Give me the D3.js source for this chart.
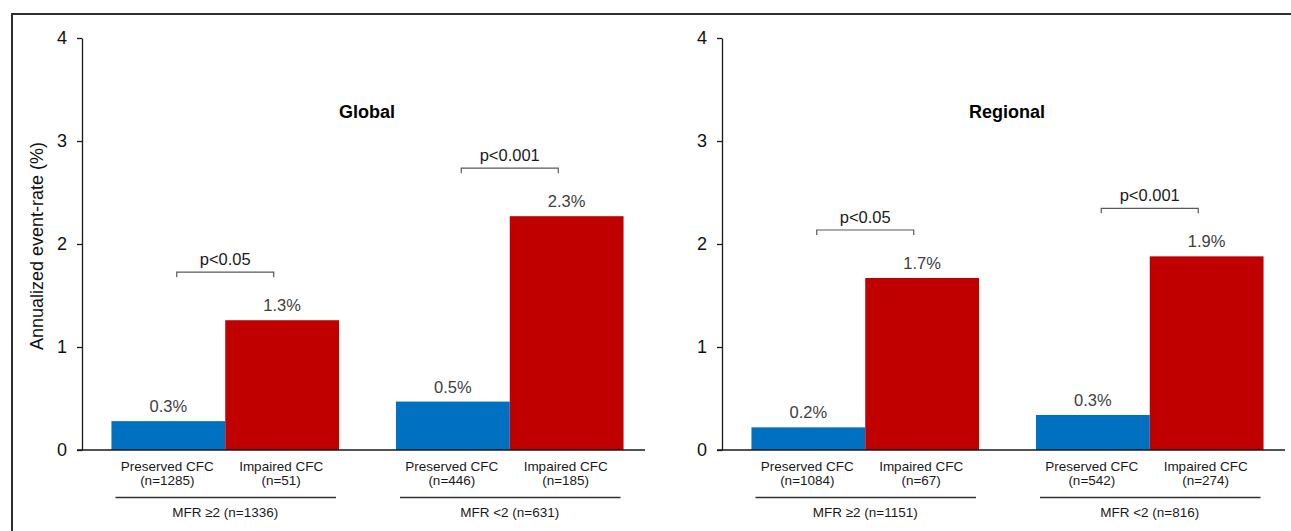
<!DOCTYPE html>
<html>
<head>
<meta charset="utf-8">
<script src="https://cdn.jsdelivr.net/npm/d3@7"></script>
<style>
  html, body { margin: 0; padding: 0; background: #fff; }
  svg { display: block; font-family: "Liberation Sans", Arial, Helvetica, sans-serif; }
</style>
</head>
<body>
<script>
// Annualized event rates by MFR group and CFC status, global and regional analyses
const panels = ["Global", "Regional"];
const groups = ["MFR ≥2", "MFR <2"];
const categories = ["Preserved CFC", "Impaired CFC"];
const groupN = [[1336, 631], [1151, 816]];
const categoryN = [
  [[1285, 51], [446, 185]],
  [[1084, 67], [542, 274]]
];
// event rate (%) per panel -> group -> [preserved, impaired]
const globalRates = [[0.28, 1.26], [0.47, 2.27]];
const regionalRates = [[0.22, 1.67], [0.34, 1.88]];
const rates = [globalRates, regionalRates];
const pLabels = [["p<0.05", "p<0.001"], ["p<0.05", "p<0.001"]];
const yTicks = [0, 1, 2, 3, 4];
const yLabel = "Annualized event-rate (%)";

const W = 1291, H = 531;
const colors = { "Preserved CFC": "#0070C0", "Impaired CFC": "#C00000" };
const fmtPct = v => d3.format(".1f")(v) + "%";

const svg = d3.select("body").append("svg")
  .attr("width", W).attr("height", H);

svg.append("rect").attr("width", W).attr("height", H).attr("fill", "#fff");

// outer frame
svg.append("rect")
  .attr("x", 12).attr("y", 14)
  .attr("width", 1400).attr("height", 700)
  .attr("fill", "none").attr("stroke", "#2e2e2e").attr("stroke-width", 2);

const y = d3.scaleLinear().domain([0, 4]).range([450, 38]);
const axisX = 82;
const panelShift = 640;

const x0 = d3.scaleBand().domain(groups)
  .range([83, 652]).paddingInner(0.2).paddingOuter(0.1);
const x1 = d3.scaleBand().domain(categories)
  .range([0, x0.bandwidth()]).padding(0);

// y-axis title
svg.append("text")
  .attr("transform", "translate(37,246) rotate(-90)")
  .attr("text-anchor", "middle")
  .attr("dy", "0.35em")
  .attr("font-size", 18)
  .attr("fill", "#111")
  .text(yLabel);

panels.forEach((panel, pi) => {
  const g = svg.append("g").attr("transform", `translate(${pi * panelShift},0)`);

  // y axis
  const yAxis = d3.axisLeft(y).tickValues(yTicks).tickFormat(d3.format("d"))
    .tickSize(5).tickSizeOuter(0).tickPadding(10);
  const ya = g.append("g").attr("transform", `translate(${axisX},0)`).call(yAxis);
  ya.select(".domain").attr("stroke", "#1a1a1a").attr("stroke-width", 1.3);
  ya.selectAll(".tick line").attr("stroke", "#1a1a1a").attr("stroke-width", 1.3);
  ya.selectAll(".tick text").attr("font-size", 18).attr("fill", "#111")
    .attr("font-family", "Liberation Sans, Arial, sans-serif");

  // panel title
  g.append("text")
    .attr("x", 367).attr("y", 118)
    .attr("text-anchor", "middle")
    .attr("font-size", 18).attr("font-weight", "bold").attr("fill", "#000")
    .text(panel);

  groups.forEach((grp, gi) => {
    const gx = x0(grp);
    const vals = rates[pi][gi];

    // bars
    categories.forEach((cat, ci) => {
      const v = vals[ci];
      const bx = gx + x1(cat);
      g.append("rect")
        .attr("x", bx).attr("y", y(v))
        .attr("width", x1.bandwidth()).attr("height", y(0) - y(v))
        .attr("fill", colors[cat]);

      // value label
      g.append("text")
        .attr("x", bx + x1.bandwidth() / 2).attr("y", y(v) - 9)
        .attr("text-anchor", "middle")
        .attr("font-size", 16.5).attr("fill", "#404040")
        .text(fmtPct(v));

      // category label
      const cx = bx + x1.bandwidth() / 2 - 1;
      g.append("text")
        .attr("x", cx).attr("y", y(0) + 21)
        .attr("text-anchor", "middle")
        .attr("font-size", 13.5).attr("fill", "#1a1a1a")
        .text(cat);
      g.append("text")
        .attr("x", cx).attr("y", y(0) + 35)
        .attr("text-anchor", "middle")
        .attr("font-size", 13.5).attr("fill", "#1a1a1a")
        .text(`(n=${categoryN[pi][gi][ci]})`);
    });

    // significance bracket above the impaired bar
    const mid = gx + x1.bandwidth();
    const by = y(vals[1]) - 48;
    const half = 48.5;
    g.append("path")
      .attr("d", `M${mid - half},${by + 5}V${by}H${mid + half}V${by + 5}`)
      .attr("fill", "none").attr("stroke", "#5a5a5a").attr("stroke-width", 1.2);
    g.append("text")
      .attr("x", mid).attr("y", by - 7)
      .attr("text-anchor", "middle")
      .attr("font-size", 16.5).attr("fill", "#1a1a1a")
      .text(pLabels[pi][gi]);

    // group underline and label
    g.append("line")
      .attr("x1", gx + 4).attr("x2", gx + x0.bandwidth() - 3)
      .attr("y1", 497.5).attr("y2", 497.5)
      .attr("stroke", "#333").attr("stroke-width", 1.5);
    g.append("text")
      .attr("x", gx + x0.bandwidth() / 2).attr("y", 517)
      .attr("text-anchor", "middle")
      .attr("font-size", 13.5).attr("fill", "#1a1a1a")
      .text(`${grp} (n=${groupN[pi][gi]})`);
  });

  // x baseline
  g.append("line")
    .attr("x1", axisX - 5).attr("x2", 645)
    .attr("y1", y(0)).attr("y2", y(0))
    .attr("stroke", "#1a1a1a").attr("stroke-width", 1.3);
});
</script>
</body>
</html>
